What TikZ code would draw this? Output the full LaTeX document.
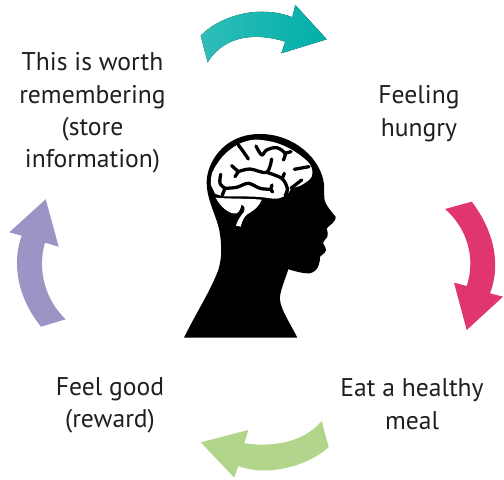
\documentclass[tikz,border=0pt]{standalone}
\usepackage{fontspec}
\setmainfont{PT Sans}
\definecolor{tealA}{HTML}{2FBDB9}
\definecolor{tealB}{HTML}{00AFA8}
\definecolor{pinkA}{HTML}{E0356F}
\definecolor{greenA}{HTML}{B1D68B}
\definecolor{purpleA}{HTML}{9D93C5}
\tikzset{
  label/.style={align=center,font=\fontsize{25.7}{32.5}\selectfont,text=black!88,inner sep=0pt},
  sulcus/.style={draw=black,line width=3.3pt,line cap=round,line join=round},
  brainfill/.style={fill=white,draw=none},
  cv/.style={smooth,tension=0.55}
}
\begin{document}
\begin{tikzpicture}[x=1bp,y=-1bp]
\useasboundingbox (0,0) rectangle (504,480);
% cycle arrows
\fill[left color=tealA,right color=tealB]
  (200.7,35.7) .. controls (222,14) and (262,5) .. (292.3,17.3)
  -- (295.3,5) -- (326.7,39.3) -- (281.3,53.3) -- (285.3,41.7)
  .. controls (258,33) and (225,34) .. (207.7,62.3) -- cycle;
\fill[pinkA]
  (471.7,201.7) .. controls (492,228) and (502,262) .. (490,293.3)
  -- (503,296.7) -- (466.7,330) -- (454,282.7) -- (466.7,286)
  .. controls (476,258) and (467,228) .. (445,209) -- cycle;
\fill[greenA]
  (321.7,421) .. controls (302,444) and (270,447) .. (244.3,443.3)
  -- (248.3,430) -- (200.7,442.3) -- (234.3,477.7) -- (238.3,466)
  .. controls (265.4,476.6) and (305.4,467.6) .. (328.7,447.3) -- cycle;
\fill[purpleA]
  (41,326.7) .. controls (20.4,301.3) and (10.4,267.3) .. (21.7,235.7)
  -- (9.3,232.3) -- (45.7,199.3) -- (58.7,246.7) -- (45,242.7)
  .. controls (36.5,271.3) and (46.5,301.3) .. (65.7,319.3) -- cycle;
% head silhouette
\fill[black] (184,337.7) .. controls (196,313) and (210,292) .. (218.3,270)
  .. controls (222,258) and (222,245) .. (219.3,230)
  .. controls (216,215) and (207,200) .. (206.7,183.3)
  .. controls (206,165) and (222,134) .. (260,134)
  .. controls (295,134) and (322,160) .. (324,185)
  -- (324.3,198.3) .. controls (325,205) and (332,212) .. (335.7,217)
  .. controls (336.5,221) and (330,225) .. (326.7,228.3)
  .. controls (328,233) and (328,235) .. (327.3,237)
  .. controls (325,240) and (323.5,241) .. (323,243)
  .. controls (325,247) and (326,248) .. (326,250)
  .. controls (325,254) and (322,254) .. (320,256.7)
  .. controls (320,262) and (319,271) .. (310,273.3)
  .. controls (303,274) and (295,271) .. (288.3,269.3)
  .. controls (285,280) and (279,293) .. (280,300)
  .. controls (281,310) and (290,323) .. (297.3,337.7) -- cycle;
% brain, coordinates measured in the 3x crop
\begin{scope}[shift={(205,135)},x=0.3333bp,y=-0.3333bp]
\fill[brainfill] plot[cv] coordinates {(18,150) (22,112) (55,62) (100,28) (150,14) (215,24) (270,50) (315,88) (320,125) (290,150) (258,162) (247,178) (215,191) (165,186) (110,184) (60,184) (30,176)} -- cycle;
\fill[brainfill] (32,188) .. controls (45,215) and (75,240) .. (95,235)
  .. controls (105,230) and (108,215) .. (110,208)
  .. controls (118,212) and (122,218) .. (116,232)
  .. controls (105,245) and (97,258) .. (93,272) -- (107,275)
  .. controls (112,255) and (118,245) .. (128,237)
  .. controls (150,225) and (165,210) .. (170,194)
  .. controls (120,190) and (70,192) .. (32,188) -- cycle;
\draw[sulcus] plot[cv] coordinates {(100,30) (115,50) (130,72)};
\draw[sulcus] plot[cv] coordinates {(153,33) (170,60) (185,45) (215,38) (240,55) (235,75)};
\draw[sulcus] (240,55) -- (258,50);
\draw[sulcus] (80,92) -- (100,110) -- (90,125);
\draw[sulcus] plot[cv] coordinates {(100,110) (135,102) (185,112) (200,72)};
\draw[sulcus] plot[cv] coordinates {(185,112) (230,130) (247,160) (240,182)};
\draw[sulcus] (233,128) -- (238,115);
\draw[sulcus] (268,103) -- (312,95);
\draw[sulcus] (290,135) -- (258,160);
\draw[sulcus] plot[cv] coordinates {(47,118) (45,145) (60,160)};
\draw[sulcus] (52,180) -- (60,160);
\draw[sulcus] plot[cv] coordinates {(60,160) (95,157) (130,145) (165,160) (197,163)};
\draw[sulcus] (197,163) -- (201,150);
\draw[sulcus] (197,163) -- (203,171);
\end{scope}
% labels
\node[label] (store) at (92.5,113) {This is worth\\remembering\\(store\\information)};
\node[label] (hungry) at (419,113.5) {Feeling\\hungry};
\node[label] (meal) at (412,404) {Eat a healthy\\meal};
\node[label] (reward) at (110,405.5) {Feel good\\(reward)};
\end{tikzpicture}
\end{document}
